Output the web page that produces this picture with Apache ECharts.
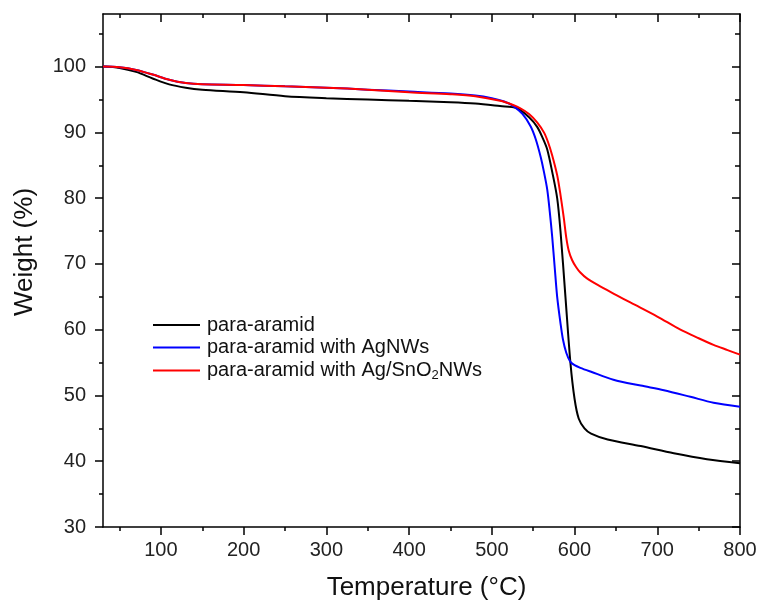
<!DOCTYPE html>
<html>
<head>
<meta charset="utf-8">
<script src="https://cdn.jsdelivr.net/npm/echarts@6/dist/echarts.min.js"></script>
<style>html,body{margin:0;padding:0;background:#fff}#c{width:760px;height:606px}</style>
</head>
<body>
<div id="c"></div>
<script>
const seriesNames = ['para-aramid', 'para-aramid with AgNWs', 'para-aramid with Ag/SnO2NWs'];
const xTicks = [100, 200, 300, 400, 500, 600, 700, 800];
const xMinorTicks = [50, 150, 250, 350, 450, 550, 650, 750];
const yTicks = [30, 40, 50, 60, 70, 80, 90, 100];
const yMinorTicks = [35, 45, 55, 65, 75, 85, 95, 105];

const tBlack = [30,50,70,90,110,130,150,200,250,300,350,400,450,480,510,530,545,555,562,567,573,579,583,589,595,600,605,612,620,640,680,720,760,800];
const wBlack = [100,99.8,99.2,98.2,97.3,96.8,96.5,96.1,95.5,95.2,95.0,94.8,94.6,94.4,94.0,93.7,92.3,90.8,89.0,87.4,84.0,80.0,75.0,65.0,55.0,49.5,46.5,45.0,44.2,43.3,42.3,41.2,40.3,39.7];

const tBlue = [30,50,70,90,110,130,150,200,250,300,350,400,450,480,500,515,526,537,547,553,559,563,567,570,573,576,579,583,586,590,595,600,607,620,647,680,708,740,768,800];
const wBlue = [100,99.9,99.5,98.8,98.0,97.5,97.3,97.2,97.0,96.8,96.5,96.2,95.9,95.6,95.2,94.7,94.0,92.8,90.9,89.0,86.3,84.0,81.3,78.0,74.1,69.5,65.0,61.0,58.5,56.5,55.1,54.6,54.2,53.6,52.4,51.5,50.8,49.8,48.9,48.3];

const tRed = [30,50,70,90,110,130,150,200,250,300,350,400,450,480,510,525,534,545,555,563,568,573,579,583,587,590,593,597,602,607,615,628,650,668,700,728,750,768,785,800];
const wRed = [100,99.9,99.5,98.8,98.0,97.5,97.3,97.2,97.0,96.8,96.5,96.1,95.8,95.5,94.8,94.2,93.7,92.8,91.5,90.0,88.5,86.5,83.5,80.5,77.0,74.0,72.0,70.6,69.5,68.7,67.8,66.8,65.3,64.1,62.0,60.0,58.7,57.7,56.9,56.2];

const colors = ['#000000', '#0000ff', '#ff0000'];
const pairs = (t, w) => t.map((v, i) => [v, w[i]]);
const FONT = '"Liberation Sans", Arial, sans-serif';

const chart = echarts.init(document.getElementById('c'));
const baseX = { type: 'value', min: 30, max: 800, gridIndex: 0, splitLine: { show: false } };
const baseY = { type: 'value', min: 30, max: 108, gridIndex: 0, splitLine: { show: false } };
const lineStyle = { color: '#000', width: 1.5 };

chart.setOption({
  animation: false,
  backgroundColor: '#fff',
  grid: { left: 103, right: 20, top: 14, bottom: 79, containLabel: false },
  legend: {
    left: 153, top: 314, orient: 'vertical', padding: 0,
    icon: 'rect', itemWidth: 47, itemHeight: 2, itemGap: 0.5,
    data: seriesNames,
    formatter: n => n === 'para-aramid with Ag/SnO2NWs' ? 'para-aramid with Ag/SnO{sub|2}NWs' : n,
    textStyle: {
      fontFamily: FONT, fontSize: 20, color: '#111', lineHeight: 22, padding: [0, 0, 0, 2],
      rich: { sub: { fontFamily: FONT, fontSize: 13, color: '#111', lineHeight: 22, padding: [10, 0, 0, 0] } }
    }
  },
  graphic: [{
    type: 'text', x: 25, y: 252, rotation: Math.PI / 2,
    style: { text: 'Weight (%)', font: '26px "Liberation Sans", Arial, sans-serif', fill: '#111', textAlign: 'center', textVerticalAlign: 'middle' }
  }],
  xAxis: [
    Object.assign({}, baseX, {
      position: 'bottom',
      name: 'Temperature (°C)', nameLocation: 'middle', nameGap: 48,
      nameTextStyle: { fontFamily: FONT, fontSize: 26, color: '#111', padding: [0, 0, 0, 10] },
      axisLine: { show: true, onZero: false, lineStyle },
      axisTick: { show: true, inside: false, length: 8, customValues: xTicks, lineStyle },
      axisLabel: { show: true, margin: 13, customValues: xTicks, fontFamily: FONT, fontSize: 20, color: '#222' }
    }),
    Object.assign({}, baseX, {
      position: 'bottom',
      axisLine: { show: false, onZero: false },
      axisTick: { show: true, inside: false, length: 4, customValues: xMinorTicks, lineStyle },
      axisLabel: { show: false }
    }),
    Object.assign({}, baseX, {
      position: 'top',
      axisLine: { show: true, onZero: false, lineStyle },
      axisTick: { show: true, inside: true, length: 8, customValues: xTicks, lineStyle },
      axisLabel: { show: false }
    }),
    Object.assign({}, baseX, {
      position: 'top',
      axisLine: { show: false, onZero: false },
      axisTick: { show: true, inside: true, length: 4, customValues: xMinorTicks, lineStyle },
      axisLabel: { show: false }
    })
  ],
  yAxis: [
    Object.assign({}, baseY, {
      position: 'left',
      axisLine: { show: true, onZero: false, lineStyle },
      axisTick: { show: true, inside: false, length: 8, customValues: yTicks, lineStyle },
      axisLabel: { show: true, margin: 17, customValues: yTicks, fontFamily: FONT, fontSize: 20, color: '#222' }
    }),
    Object.assign({}, baseY, {
      position: 'left',
      axisLine: { show: false, onZero: false },
      axisTick: { show: true, inside: false, length: 4, customValues: yMinorTicks, lineStyle },
      axisLabel: { show: false }
    }),
    Object.assign({}, baseY, {
      position: 'right',
      axisLine: { show: true, onZero: false, lineStyle },
      axisTick: { show: true, inside: true, length: 8, customValues: yTicks, lineStyle },
      axisLabel: { show: false }
    }),
    Object.assign({}, baseY, {
      position: 'right',
      axisLine: { show: false, onZero: false },
      axisTick: { show: true, inside: true, length: 5, customValues: yMinorTicks, lineStyle },
      axisLabel: { show: false }
    })
  ],
  series: [
    { name: seriesNames[0], type: 'line', data: pairs(tBlack, wBlack), showSymbol: false, smooth: 0.3,
      lineStyle: { color: colors[0], width: 2 }, itemStyle: { color: colors[0] }, z: 3 },
    { name: seriesNames[1], type: 'line', data: pairs(tBlue, wBlue), showSymbol: false, smooth: 0.3,
      lineStyle: { color: colors[1], width: 2 }, itemStyle: { color: colors[1] }, z: 4 },
    { name: seriesNames[2], type: 'line', data: pairs(tRed, wRed), showSymbol: false, smooth: 0.3,
      lineStyle: { color: colors[2], width: 2 }, itemStyle: { color: colors[2] }, z: 5 }
  ]
});
</script>
</body>
</html>
